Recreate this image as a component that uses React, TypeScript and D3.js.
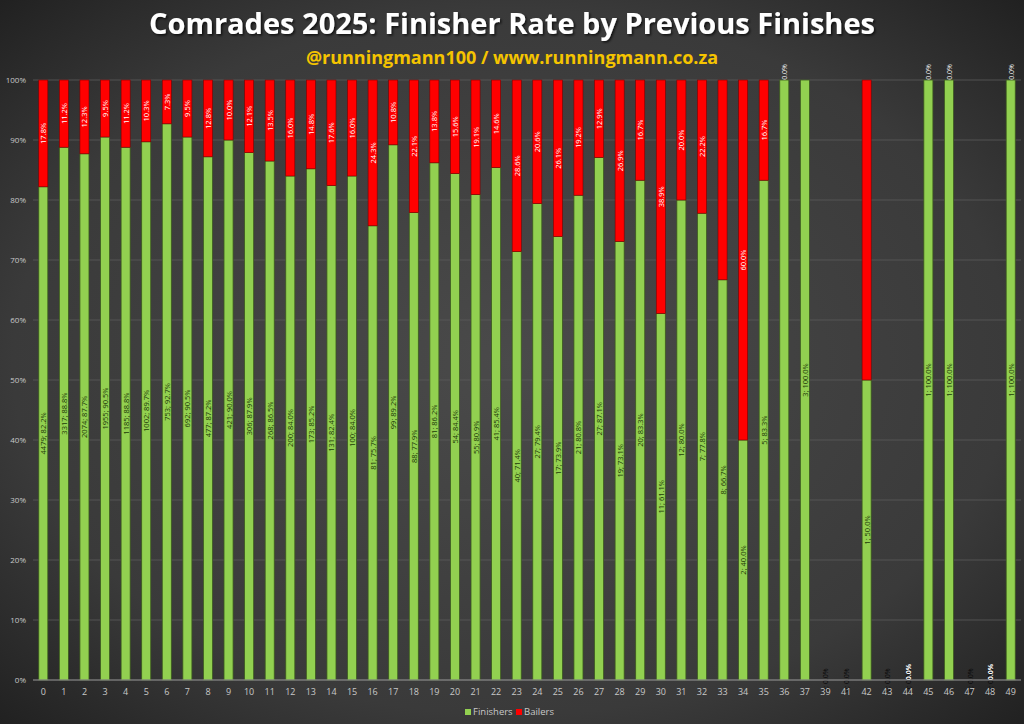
import React from "react";
import * as d3 from "d3";

const categories = ["0","1","2","3","4","5","6","7","8","9","10","11","12","13","14","15","16","17","18","19","20","21","22","23","24","25","26","27","28","29","30","31","32","33","34","35","36","37","39","41","42","43","44","45","46","47","48","49"];

const finisherCounts: (number | null)[] = [4479,3317,2074,1955,1185,1002,753,692,477,421,306,268,200,173,131,100,81,99,88,81,54,55,41,40,27,17,21,27,19,20,11,12,7,8,2,5,null,3,0,0,1,0,0,1,1,0,0,1];

const finisherPct = [82.2,88.8,87.7,90.5,88.8,89.7,92.7,90.5,87.2,90.0,87.9,86.5,84.0,85.2,82.4,84.0,75.7,89.2,77.9,86.2,84.4,80.9,85.4,71.4,79.4,73.9,80.8,87.1,73.1,83.3,61.1,80.0,77.8,66.7,40.0,83.3,100,100,0,0,50,0,0,100,100,0,0,100];

const bailerPct = [17.8,11.2,12.3,9.5,11.2,10.3,7.3,9.5,12.8,10.0,12.1,13.5,16.0,14.8,17.6,16.0,24.3,10.8,22.1,13.8,15.6,19.1,14.6,28.6,20.6,26.1,19.2,12.9,26.9,16.7,38.9,20.0,22.2,33.3,60.0,16.7,0,0,0,0,50,0,0,0,0,0,0,0];

// which bailer labels Excel displayed
const bailerLabelShown = [1,1,1,1,1,1,1,1,1,1,1,1,1,1,1,1,1,1,1,1,1,1,1,1,1,1,1,1,1,1,1,1,1,0,1,1,1,0,0,0,0,0,1,1,1,0,1,1];

const yTicks = [0,10,20,30,40,50,60,70,80,90,100];

const title = "Comrades 2025: Finisher Rate by Previous Finishes";
const subtitle = "@runningmann100 / www.runningmann.co.za";
const seriesNames = ["Finishers", "Bailers"];

const W = 1024, H = 724;
const GREEN = "#92d050";
const RED = "#ff0000";
const FONT = "'Open Sans', 'DejaVu Sans', sans-serif";

export default function App() {
  const x = d3.scaleBand<string>().domain(categories).range([33, 1021]).paddingInner(0.56).paddingOuter(0.28);
  const y = d3.scaleLinear().domain([0, 100]).range([680, 80]);
  const bw = x.bandwidth();

  return (
    <svg width={W} height={H} style={{ position: "absolute", left: 0, top: 0, display: "block" }} fontFamily={FONT}>
      <defs>
        <radialGradient id="bg" cx="50%" cy="50%" r="75%">
          <stop offset="0%" stopColor="#4a4a4a" />
          <stop offset="65%" stopColor="#3a3a3a" />
          <stop offset="100%" stopColor="#1c1c1c" />
        </radialGradient>
        <filter id="shadow" x="-10%" y="-30%" width="120%" height="160%">
          <feDropShadow dx="1.5" dy="1.5" stdDeviation="1" floodColor="#000" floodOpacity="0.7" />
        </filter>
      </defs>
      <rect x={0} y={0} width={W} height={H} fill="url(#bg)" />

      <text x={512} y={34} textAnchor="middle" fill="#ffffff" fontWeight="bold" fontSize={29} filter="url(#shadow)">{title}</text>
      <text x={512} y={64} textAnchor="middle" fill="#f5c400" fontWeight="bold" fontSize={18}>{subtitle}</text>

      {yTicks.map((t) => (
        <g key={t}>
          {t > 0 && <line x1={33} x2={1021} y1={y(t)} y2={y(t)} stroke="#5a5a5a" strokeWidth={0.8} />}
          <text x={26} y={y(t) + 3} textAnchor="end" fill="#c8c8c8" fontSize={8}>{t}%</text>
        </g>
      ))}

      {categories.map((c, i) => {
        const cx = (x(c) as number) + bw / 2;
        const fp = finisherPct[i];
        const bp = bailerPct[i];
        const total = fp + bp;
        const cnt = finisherCounts[i];
        return (
          <g key={c}>
            {fp > 0 && (
              <rect x={x(c)} y={y(fp)} width={bw} height={y(0) - y(fp)} fill={GREEN} stroke="#3c5a1e" strokeWidth={0.8} />
            )}
            {bp > 0 && (
              <rect x={x(c)} y={y(fp + bp)} width={bw} height={y(fp) - y(fp + bp)} fill={RED} stroke="#7a0000" strokeWidth={0.6} />
            )}
            {fp > 0 && cnt !== null && (
              <text transform={`translate(${cx + 3},${y(fp / 2)}) rotate(-90)`} textAnchor="middle" fill="#1e3a08" fontSize={7.5}>
                {`${cnt}; ${fp.toFixed(1)}%`}
              </text>
            )}
            {total === 0 && (
              <text transform={`translate(${cx + 3},${y(0)}) rotate(-90)`} textAnchor="middle" fill="#0a0a0a" fontSize={7}>
                {`0; 0.0%`}
              </text>
            )}
            {bailerLabelShown[i] === 1 && bp > 0 && (
              <text transform={`translate(${cx + 3},${y(fp + bp / 2)}) rotate(-90)`} textAnchor="middle" fill="#ffffff" fontSize={7.5}>
                {`${bp.toFixed(1)}%`}
              </text>
            )}
            {bailerLabelShown[i] === 1 && bp === 0 && fp > 0 && (
              <text transform={`translate(${cx + 3},${y(100) - 8}) rotate(-90)`} textAnchor="middle" fill="#e8e8e8" fontSize={7}>
                {`0.0%`}
              </text>
            )}
            {bailerLabelShown[i] === 1 && total === 0 && (
              <text transform={`translate(${cx + 3},${y(0) - 8}) rotate(-90)`} textAnchor="middle" fill="#ffffff" fontWeight="bold" fontSize={7}>
                {`0.0%`}
              </text>
            )}
            <text x={cx} y={695} textAnchor="middle" fill="#c8c8c8" fontSize={9}>{c}</text>
          </g>
        );
      })}

      <line x1={33} x2={1021} y1={y(0)} y2={y(0)} stroke="#9a9a9a" strokeWidth={1} />

      <g>
        <rect x={465} y={709} width={6} height={6} fill={GREEN} />
        <text x={473} y={715} fill="#c8c8c8" fontSize={9.5}>{seriesNames[0]}</text>
        <rect x={516} y={709} width={6} height={6} fill={RED} />
        <text x={524} y={715} fill="#c8c8c8" fontSize={9.5}>{seriesNames[1]}</text>
      </g>
    </svg>
  );
}
